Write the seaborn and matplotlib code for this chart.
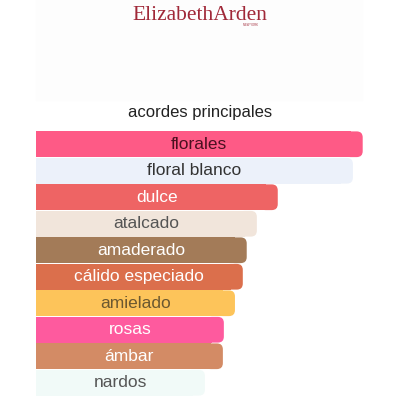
import pandas as pd
import seaborn as sns
import matplotlib.pyplot as plt
from matplotlib.patches import FancyBboxPatch

# accords and their relative strength (%)
ACCORDS = ['florales', 'floral blanco', 'dulce', 'atalcado', 'amaderado',
           'cálido especiado', 'amielado', 'rosas', 'ámbar', 'nardos']
STRENGTH = [100, 97, 74, 67.6, 64.5, 63.3, 60.9, 57.5, 57.2, 51.7]
BAR_COLORS = ['#FE5A86', '#ECF1FA', '#EE6464', '#F1E5DB', '#A37B58',
              '#DB6F4C', '#FDC45A', '#FE5A9E', '#D38B65', '#F1FAF8']
TEXT_COLORS = ['#4A1020', '#333333', '#FFFFFF', '#555555', '#FFFFFF',
               '#FFFFFF', '#6B5830', '#FFFFFF', '#FFFFFF', '#555555']
TITLE = 'acordes principales'
BRAND = 'ElizabethArden'


def main():
    sns.set_style('white')
    plt.rcParams['font.family'] = ['Liberation Sans', 'DejaVu Sans']

    fig = plt.figure(figsize=(4, 4), dpi=100)
    fig.patch.set_facecolor('white')

    # faint backdrop behind the logo
    fig.patches.append(plt.Rectangle((36 / 400, 1 - 100 / 400), 326 / 400, 100 / 400,
                                     transform=fig.transFigure, color='#FDFDFD', zorder=0))

    fig.text(0.5, 1 - 19.5 / 400, BRAND, ha='center', va='baseline', fontsize=15.5,
             family='Liberation Serif', color='#A02838')
    fig.text(251 / 400, 1 - 25.5 / 400, 'NEW YORK', ha='center', va='center', fontsize=2,
             color='#A02838')
    fig.text(0.5, 1 - 113 / 400, TITLE, ha='center', va='center', fontsize=12, color='#222222')

    ax = fig.add_axes([36 / 400, 4 / 400, 326.7 / 400, 265 / 400])
    df = pd.DataFrame({'accord': ACCORDS, 'strength': STRENGTH})
    sns.barplot(data=df, x='strength', y='accord', hue='accord', palette=BAR_COLORS,
                saturation=1, legend=False, width=0.97, ax=ax)
    ax.set_xlim(0, 100)
    ax.set_ylim(9.5, -0.5)

    # x units per pixel vs y units per pixel, for round corners
    px_x = 100 / 326.7
    px_y = 10 / 265
    rad = 6 * px_x
    for patch, color in zip(list(ax.patches), BAR_COLORS):
        x, y = patch.get_x(), patch.get_y()
        w, h = patch.get_width(), patch.get_height()
        patch.set_width(w - 2 * rad)
        patch.set_edgecolor('none')
        ax.add_patch(FancyBboxPatch((x + w - 3 * rad, y), 3 * rad, h,
                                    boxstyle=f'round,pad=0,rounding_size={rad}',
                                    mutation_aspect=px_y / px_x,
                                    facecolor=color, edgecolor='none'))

    for i, (val, tc) in enumerate(zip(STRENGTH, TEXT_COLORS)):
        ax.text(val / 2, i, ACCORDS[i], ha='center', va='center', fontsize=12.5, color=tc)

    ax.set_xlabel('')
    ax.set_ylabel('')
    ax.set_xticks([])
    ax.set_yticks([])
    sns.despine(ax=ax, left=True, bottom=True)
    ax.set_facecolor('none')

    fig.savefig('out.png', dpi=100)
    plt.close(fig)


if __name__ == '__main__':
    main()
